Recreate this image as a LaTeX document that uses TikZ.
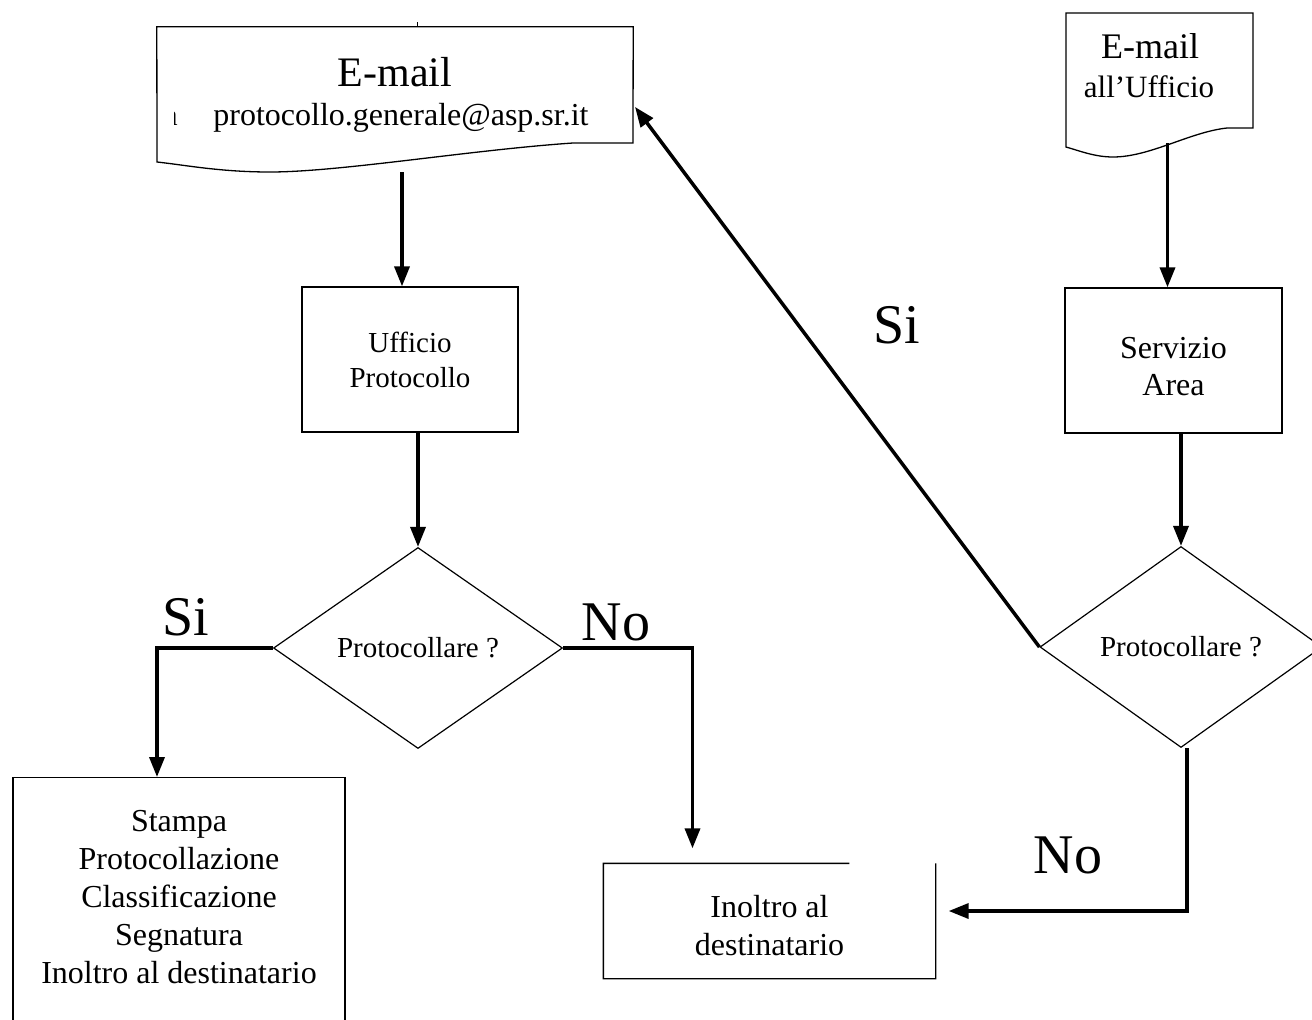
\documentclass[tikz,border=0pt]{standalone}
\usepackage{fontspec}
\setmainfont{Liberation Serif}
\usetikzlibrary{arrows.meta,shapes.geometric,calc}
\tikzset{
    procbox/.style={draw, line width=1.3pt, align=center, inner sep=0pt, font=\fontsize{32}{38}\selectfont},
    decision/.style={draw, diamond, line width=1.2pt, inner sep=0pt, minimum height=201pt, font=\fontsize{29}{34}\selectfont},
    docarea/.style={inner sep=0pt},
    docline/.style={line width=1.3pt},
    doctext/.style={anchor=base, inner sep=0pt},
    flowarr/.style={-{Triangle[length=20pt,width=15pt]}, line width=3.5pt},
    branchlbl/.style={anchor=base, inner sep=0pt, font=\fontsize{56}{60}\selectfont},
}
\begin{document}
\begin{tikzpicture}[x=1pt,y=-1pt]
\useasboundingbox (0,0) rectangle (1312,1020);

% e-mail documents
\node[docarea, minimum width=476pt, minimum height=145pt] (mailA) at (395,99.5) {};
\draw[docline] (mailA.north west) -- (mailA.north east) -- (633,143) -- (573,143)
    .. controls (470,150) and (340,172) .. (270,172)
    .. controls (220,172) and (185,165) .. (157,162) -- cycle;
\node[doctext, font=\fontsize{42}{46}\selectfont] (mailAtitle) at (395,86) {E-mail};
\node[doctext, font=\fontsize{32}{36}\selectfont] (mailAaddr) at (401,125) {protocollo.generale@asp.sr.it};
\begin{scope}
\clip (174,100) rectangle (180,130);
\node[anchor=base east, inner sep=0pt, font=\fontsize{30}{36}\selectfont] (strayA) at (178,125) {a};
\end{scope}
\draw[line width=1pt] (417,22) -- (417,27);

\node[docarea, minimum width=187pt, minimum height=130pt] (mailB) at (1159.5,78) {};
\draw[docline] (1066,13) -- (1253,13) -- (1253,128) -- (1227,128)
    .. controls (1190,132) and (1150,157) .. (1113,157)
    .. controls (1095,157) and (1080,151) .. (1066,147) -- cycle;
\node[doctext, font=\fontsize{36}{40}\selectfont] (mailBtitle) at (1150,58) {E-mail};
\node[doctext, font=\fontsize{31}{36}\selectfont] (mailBoffice) at (1149,97) {all’Ufficio};

% boxes and decisions
\node[procbox, minimum width=216pt, minimum height=145pt, font=\fontsize{29}{35}\selectfont] (ufficio) at (410,359.5) {Ufficio\\Protocollo};
\node[procbox, minimum width=217pt, minimum height=145pt, font=\fontsize{32}{37}\selectfont, text height=71pt] (servizio) at (1173.5,360.5) {Servizio\\Area};
\node[decision, minimum width=289pt] (diamA) at (418,648) {Protocollare ?};
\node[decision, minimum width=282pt] (diamB) at (1181,647) {Protocollare ?};
\node[procbox, anchor=north, minimum width=332pt, minimum height=300pt, text depth=62pt] (stampa) at (179,777)
    {Stampa\\Protocollazione\\Classificazione\\Segnatura\\Inoltro al destinatario};
\node[procbox, draw=none, minimum width=331pt, minimum height=114pt, text height=70pt] (inoltro) at (769.5,921) {Inoltro al\\destinatario};
\draw[line width=1.3pt] ($(inoltro.north west)!0.74!(inoltro.north east)$) -- (inoltro.north west)
    -- (inoltro.south west) -- (inoltro.south east) -- (inoltro.north east);

% connectors
\coordinate (ufficioIn) at ([xshift=-8pt]ufficio.north);
\coordinate (servizioIn) at ([xshift=-6pt]servizio.north);
\coordinate (stampaIn) at ([xshift=-22pt]stampa.north);
\coordinate (inoltroIn) at ([xshift=-77pt]inoltro.north);
\coordinate (inoltroSide) at ([yshift=10pt]inoltro.east);
\draw[flowarr] (mailA.south -| ufficioIn) -- (ufficioIn);
\draw[flowarr] (ufficio.south -| diamA.north) -- (diamA.north);
\draw[flowarr] (diamA.west) -| (stampaIn);
\draw[flowarr, shorten >=15pt] (diamA.east) -| (inoltroIn);
\draw[flowarr] (mailB.south -| servizioIn) -- (servizioIn);
\draw[flowarr] (servizio.south -| diamB.north) -- (diamB.north);
\draw[flowarr, shorten >=13pt] ([xshift=6pt]diamB.south) |- (inoltroSide);
\draw[flowarr, shorten >=3pt] (diamB.west) -- ([yshift=-5pt]mailA.east);

% branch labels
\node[branchlbl] (siA) at (186,635) {Si};
\node[branchlbl] (noA) at (616,640) {No};
\node[branchlbl] (siB) at (897,343) {Si};
\node[branchlbl] (noB) at (1068,873) {No};
\end{tikzpicture}
\end{document}
